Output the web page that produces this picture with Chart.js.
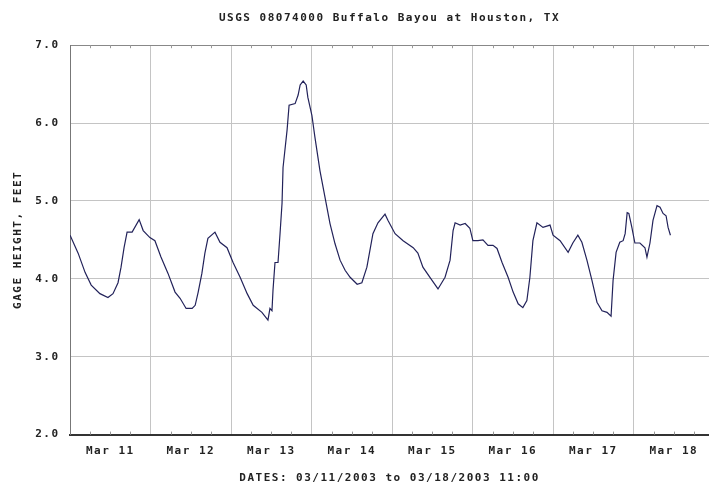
<!DOCTYPE html>
<html>
<head>
<meta charset="utf-8">
<script src="https://cdn.jsdelivr.net/npm/chart.js@4"></script>
<style>
  html, body { margin: 0; padding: 0; background: #fff; }
  #wrap { width: 709px; height: 485px; position: relative; }
</style>
</head>
<body>
<div id="wrap"><canvas id="gageChart"></canvas></div>
<script>
// hours since 03/11/2003 00:00
const hours = [0, 2.4, 4.5, 6.3, 8.9, 11.3, 12.8, 14.3, 15.2, 16.1, 17.0, 18.5, 20.6, 21.8, 23.8,
  25.3, 27.1, 29.2, 31.3, 32.8, 34.6, 36.4, 37.3, 38.2, 39.3, 40.2, 41.1, 43.2, 44.7, 46.8,
  48.6, 50.7, 52.8, 54.6, 57.2, 59.0, 59.6, 60.2, 60.5, 61.1, 62.0, 62.6, 63.2, 63.5, 64.7,
  65.3, 67.1, 68.0, 68.6, 69.5, 70.4, 70.9, 72.1, 73.0, 74.5, 76.0, 77.5, 79.0, 80.5, 82.0,
  83.5, 85.6, 87.0, 88.5, 90.3, 91.8, 93.9, 94.8, 96.9, 99.3, 102.3, 103.7, 105.2, 107.3, 109.7,
  111.8, 113.3, 114.2, 114.8, 116.3, 117.8, 119.2, 120.1, 121.6, 123.1, 124.6, 126.1, 127.3, 128.8,
  130.6, 132.1, 133.6, 135.0, 136.2, 137.1, 138.0, 139.2, 141.0, 143.1, 144.0, 146.1, 148.5,
  149.9, 151.4, 152.6, 154.1, 155.6, 157.1, 158.6, 160.1, 161.3, 161.9, 162.8, 163.9, 164.9,
  165.5, 166.1, 166.6, 167.5, 168.4, 169.9, 171.4, 172.0, 172.9, 173.8, 175.0, 175.9, 176.8,
  177.7, 178.3, 179.0];

// gage height, feet
const gage = [4.56, 4.33, 4.08, 3.92, 3.81, 3.76, 3.81, 3.95, 4.15, 4.40, 4.60, 4.60, 4.76, 4.62, 4.53,
  4.49, 4.28, 4.07, 3.83, 3.75, 3.62, 3.62, 3.66, 3.83, 4.07, 4.33, 4.52, 4.60, 4.47, 4.40,
  4.21, 4.02, 3.81, 3.66, 3.57, 3.47, 3.62, 3.59, 3.85, 4.21, 4.21, 4.58, 4.97, 5.43, 5.91,
  6.23, 6.25, 6.36, 6.49, 6.54, 6.49, 6.33, 6.10, 5.82, 5.39, 5.05, 4.71, 4.45, 4.24, 4.11,
  4.02, 3.93, 3.95, 4.15, 4.58, 4.72, 4.83, 4.75, 4.58, 4.49, 4.40, 4.33, 4.15, 4.02, 3.87,
  4.02, 4.24, 4.62, 4.72, 4.69, 4.71, 4.65, 4.49, 4.49, 4.50, 4.43, 4.43, 4.39, 4.21,
  4.02, 3.83, 3.68, 3.63, 3.72, 4.02, 4.49, 4.72, 4.66, 4.69, 4.56, 4.49, 4.34,
  4.46, 4.56, 4.47, 4.24, 3.98, 3.70, 3.59, 3.57, 3.52, 3.98, 4.34, 4.47, 4.49,
  4.58, 4.85, 4.84, 4.66, 4.46, 4.46, 4.40, 4.28, 4.46, 4.75, 4.94, 4.92, 4.84,
  4.81, 4.66, 4.56];

const dayLabels = ["Mar 11", "Mar 12", "Mar 13", "Mar 14", "Mar 15", "Mar 16", "Mar 17", "Mar 18"];
const yTicks = [2, 3, 4, 5, 6, 7];

const points = hours.map((h, i) => ({ x: h, y: gage[i] }));

const pixFont = { family: "'DejaVu Sans Mono', monospace", size: 11, weight: "bold" };

// small tick marks every 6 hours along top and bottom edges
const minorTicks = {
  id: "minorTicks",
  beforeDraw(chart) {
    chart.ctx.letterSpacing = "1.5px";
  },
  afterDraw(chart) {
    const { ctx, chartArea, scales } = chart;
    ctx.save();
    ctx.strokeStyle = "#999";
    ctx.lineWidth = 1;
    for (let h = 6; h < scales.x.max; h += 6) {
      if (h % 24 === 0) continue;
      const px = Math.round(scales.x.getPixelForValue(h)) + 0.5;
      ctx.beginPath();
      ctx.moveTo(px, chartArea.top);
      ctx.lineTo(px, chartArea.top + 3);
      ctx.moveTo(px, chartArea.bottom);
      ctx.lineTo(px, chartArea.bottom - 3);
      ctx.stroke();
    }
    ctx.restore();
  }
};

new Chart(document.getElementById("gageChart"), {
  type: "line",
  data: {
    datasets: [{
      data: points,
      borderColor: "#22225a",
      borderWidth: 1.2,
      pointRadius: 0,
      tension: 0,
      fill: false
    }]
  },
  options: {
    responsive: true,
    maintainAspectRatio: false,
    animation: false,
    layout: { padding: { left: 12, right: 0, top: 12, bottom: 0 } },
    plugins: {
      legend: { display: false },
      tooltip: { enabled: false },
      title: {
        display: true,
        fullSize: false,
        text: "USGS 08074000 Buffalo Bayou at Houston, TX",
        color: "#222",
        font: pixFont,
        padding: { top: 0, bottom: 20 }
      }
    },
    scales: {
      x: {
        type: "linear",
        min: 0,
        max: 190.5,
        afterBuildTicks(axis) {
          axis.ticks = [];
          for (let h = 0; h <= 190; h += 12) axis.ticks.push({ value: h });
        },
        ticks: {
          autoSkip: false,
          maxRotation: 0,
          color: "#222",
          font: pixFont,
          padding: 10,
          callback: (v) => (v % 24 === 12 ? dayLabels[Math.floor(v / 24)] : "")
        },
        grid: {
          color: (c) => (c.tick && c.tick.value % 24 === 0 ? "#c4c4c4" : "transparent"),
          drawTicks: false
        },
        border: { color: "#333", width: 2 },
        title: {
          display: true,
          text: "DATES: 03/11/2003 to 03/18/2003 11:00",
          color: "#222",
          font: pixFont,
          padding: { top: 4, bottom: 0 }
        }
      },
      y: {
        min: 2,
        max: 7,
        afterBuildTicks(axis) {
          axis.ticks = yTicks.map((v) => ({ value: v }));
        },
        ticks: {
          color: "#222",
          font: pixFont,
          padding: 10.5,
          callback: (v) => v.toFixed(1)
        },
        grid: {
          color: (c) => (c.tick && c.tick.value === 7 ? "#888" : "#c4c4c4"),
          drawTicks: false
        },
        border: { color: "#777", width: 1 },
        title: {
          display: true,
          text: "GAGE HEIGHT, FEET",
          color: "#222",
          font: pixFont,
          padding: { top: 0, bottom: 4 }
        }
      }
    }
  },
  plugins: [minorTicks]
});
</script>
</body>
</html>
